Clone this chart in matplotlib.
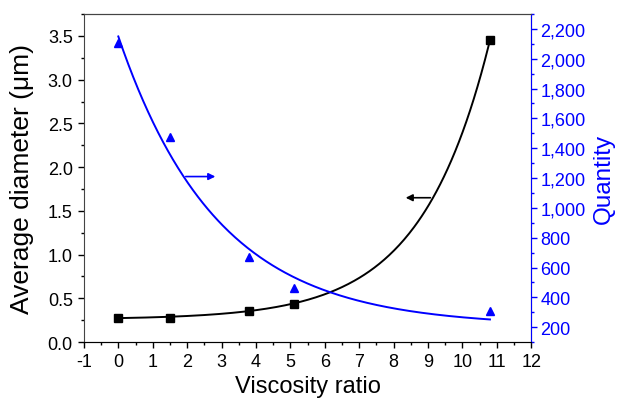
import numpy as np
import matplotlib
matplotlib.use('Agg')
import matplotlib.pyplot as plt
from matplotlib.ticker import MultipleLocator, FuncFormatter

plt.rcParams['font.family'] = ['Liberation Sans', 'DejaVu Sans']

# data
viscosity_ratio = [0, 1.5, 3.8, 5.1, 10.8]
avg_diameter = [0.28, 0.28, 0.36, 0.44, 3.45]
quantity = [2105, 1478, 668, 461, 307]


def exp_fit(x, y, sign, taus):
    # y = y0 + A*exp(sign*x/t), grid search on t, least squares for y0, A
    x = np.asarray(x, float)
    y = np.asarray(y, float)
    best = None
    for t in taus:
        M = np.column_stack([np.ones_like(x), np.exp(sign * x / t)])
        coef, *_ = np.linalg.lstsq(M, y, rcond=None)
        err = np.sum((M @ coef - y) ** 2)
        if best is None or err < best[0]:
            best = (err, t, coef)
    return best[1], best[2]


taus = np.linspace(0.5, 20, 2000)
t_d, c_d = exp_fit(viscosity_ratio, avg_diameter, 1, taus)
t_q, c_q = exp_fit(viscosity_ratio, quantity, -1, taus)
xf = np.linspace(0, 10.8, 300)
fit_d = c_d[0] + c_d[1] * np.exp(xf / t_d)
fit_q = c_q[0] + c_q[1] * np.exp(-xf / t_q)

blue = '#0000ff'

fig = plt.figure(figsize=(6.17, 4.06), dpi=100)
ax = fig.add_axes([0.136, 0.155, 0.725, 0.808])
ax2 = ax.twinx()

ax.plot(xf, fit_d, color='black', lw=1.4)
ax.plot(viscosity_ratio, avg_diameter, 's', color='black', ms=6)
ax2.plot(xf, fit_q, color=blue, lw=1.4)
ax2.plot(viscosity_ratio, quantity, '^', color=blue, ms=6)

ax.annotate('', xy=(8.27, 1.65), xytext=(9.15, 1.65),
            arrowprops=dict(arrowstyle='-|>', color='black', lw=1.2, mutation_scale=10))
ax2.annotate('', xy=(2.9, 1210), xytext=(1.88, 1210),
             arrowprops=dict(arrowstyle='-|>', color=blue, lw=1.2, mutation_scale=10))

ax.set_xlim(-1, 12)
ax.set_ylim(0, 3.75)
ax2.set_ylim(100, 2300)

ax.xaxis.set_major_locator(MultipleLocator(1))
ax.xaxis.set_minor_locator(MultipleLocator(0.5))
ax.yaxis.set_major_locator(MultipleLocator(0.5))
ax.yaxis.set_minor_locator(MultipleLocator(0.25))
ax2.yaxis.set_major_locator(MultipleLocator(200))
ax2.yaxis.set_minor_locator(MultipleLocator(100))
ax2.yaxis.set_major_formatter(FuncFormatter(lambda v, p: f'{int(v):,}'))
ax.xaxis.set_major_formatter(FuncFormatter(lambda v, p: f'{int(v)}'))

ax.tick_params(which='major', direction='out', length=4.5, width=1, labelsize=13)
ax.tick_params(which='minor', direction='out', length=2.5, width=1)
ax2.tick_params(which='major', direction='out', length=4.5, width=1, labelsize=13,
                colors=blue, pad=2)
ax2.tick_params(which='minor', direction='out', length=2.5, width=1, colors=blue)

for s in ax.spines.values():
    s.set_color('#444444')
ax2.spines['right'].set_color(blue)
ax2.spines['top'].set_color('#444444')
ax2.spines['left'].set_visible(False)

ax.set_xlabel('Viscosity ratio', fontsize=17)
ax.set_ylabel('Average diameter (\u03bcm)', fontsize=19)
ax2.set_ylabel('Quantity', fontsize=17.5, color=blue)
ax.xaxis.set_label_coords(0.5, -0.1)
ax.yaxis.set_label_coords(-0.112, 0.5)
ax2.yaxis.set_label_coords(1.137, 0.5)

fig.savefig('out.png', dpi=100)
